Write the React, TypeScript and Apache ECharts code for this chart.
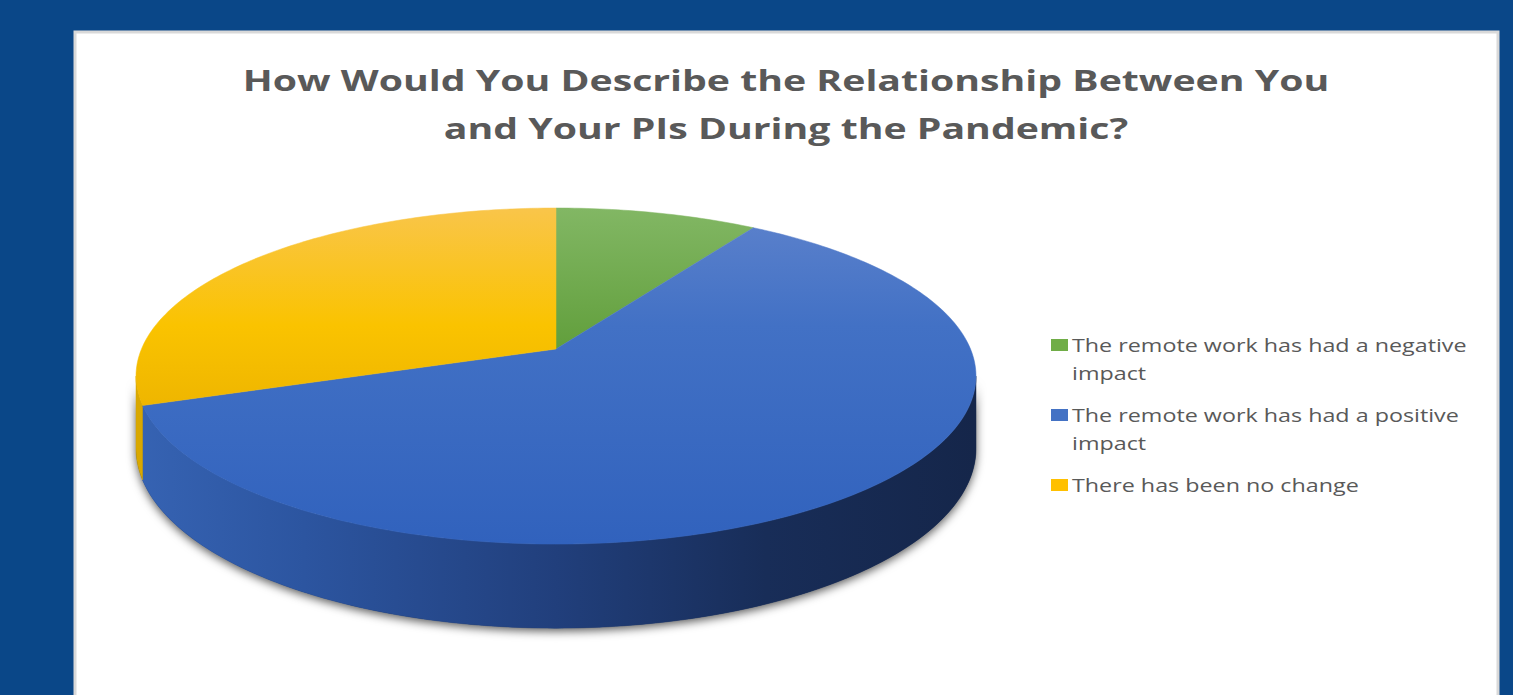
import React, { useEffect, useRef } from "react";
import * as echarts from "echarts";

// ---- data ----
const categories = [
  "The remote work has had a negative impact",
  "The remote work has had a positive impact",
  "There has been no change",
];
const responses = [3, 20, 10];
const titleLines = [
  "How Would You Describe the Relationship Between You",
  "and Your PIs During the Pandemic?",
];

// ---- styles ----
const swatch = ["#70ad47", "#4472c4", "#ffc000"];
const topStops = [
  [[0, "#82b764"], [0.45, "#5f9d39"], [1, "#5a9634"]],
  [[0, "#5d82cc"], [0.35, "#4271c5"], [1, "#3162bd"]],
  [[0, "#f9c54a"], [0.35, "#fac300"], [0.6, "#eeb500"], [1, "#e4ad00"]],
];
const sideStops = [
  [[0, "#4d8a2e"], [1, "#2f5a1a"]],
  [[0, "#3663b3"], [0.2, "#2c55a0"], [0.5, "#213f7c"], [0.75, "#182d58"], [1, "#15264a"]],
  [[0, "#d9a800"], [1, "#b48a00"]],
];

// ---- 3D pie geometry (perspective ellipse) ----
const CX = 556, CY = 349, A = 414.5, B = 163.7, E = 0.161, T0 = 70.5;
const VIS0 = (Math.acos(-E) * 180) / Math.PI;
const VIS1 = 360 - VIS0;
const rim = (deg: number) => {
  const t = (deg * Math.PI) / 180;
  const k = 1 + E * Math.cos(t);
  return [CX + (A * Math.sin(t)) / k, CY - (B * Math.cos(t)) / k];
};
const rimBottom = (deg: number) => {
  const t = (deg * Math.PI) / 180;
  const p = rim(deg);
  return [p[0], p[1] + T0 / (1 + E * Math.cos(t))];
};
const arc = (a0: number, a1: number, f: (d: number) => number[]) => {
  const n = Math.max(2, Math.ceil(Math.abs(a1 - a0)));
  const pts: number[][] = [];
  for (let i = 0; i <= n; i++) pts.push(f(a0 + ((a1 - a0) * i) / n));
  return pts;
};
const grad = (stops: any[], x: number, y: number, x2: number, y2: number) => ({
  type: "linear", x, y, x2, y2, global: true,
  colorStops: stops.map((s) => ({ offset: s[0], color: s[1] })),
});

const total = responses.reduce((a, b) => a + b, 0);
const starts: number[] = [];
const ends: number[] = [];
responses.reduce((acc, v, i) => {
  starts[i] = acc;
  ends[i] = acc + (v / total) * 360;
  return ends[i];
}, 0);

const TITLE_FONT = 'bold 28px "Open Sans"';
const LEGEND_FONT = '18px "Open Sans"';
const TITLE_WIDTH = 1087;
const LEGEND_SCALE = 1.295;

function measure(text: string, font: string) {
  const ctx = document.createElement("canvas").getContext("2d")!;
  ctx.font = font;
  return ctx.measureText(text).width;
}
function wrap(text: string, width: number): string[] {
  const words = text.split(" ");
  const lines: string[] = [];
  let cur = "";
  for (const w of words) {
    const t = cur ? cur + " " + w : w;
    if (measure(t, LEGEND_FONT) > width && cur) {
      lines.push(cur);
      cur = w;
    } else cur = t;
  }
  if (cur) lines.push(cur);
  return lines;
}

export default function App() {
  const ref = useRef<HTMLDivElement>(null);
  useEffect(() => {
    const chart = echarts.init(ref.current!, null, { renderer: "svg" });
    const titleScale = TITLE_WIDTH / measure(titleLines[0], TITLE_FONT);

    const legendEls: any[] = [];
    let y = 331;
    const LH = 28;
    categories.forEach((c, i) => {
      const lines = wrap(c, 420 / LEGEND_SCALE);
      legendEls.push({
        type: "rect",
        shape: { x: 1051, y: y + 8, width: 17, height: 12 },
        style: { fill: swatch[i] },
      });
      legendEls.push({
        type: "text",
        x: 1072,
        y,
        scaleX: LEGEND_SCALE,
        style: {
          text: lines.join("\n"),
          font: LEGEND_FONT,
          fill: "#595959",
          lineHeight: LH,
          textVerticalAlign: "top",
        },
      });
      y += lines.length * LH + 14;
    });

    chart.setOption({
      animation: false,
      backgroundColor: "#0a4788",
      graphic: [
        {
          type: "rect",
          z: -10,
          shape: { x: 75, y: 32, width: 1423, height: 700 },
          style: { fill: "#ffffff", stroke: "#d9d9d9", lineWidth: 3 },
        },
        {
          type: "text",
          x: 786,
          y: 104,
          scaleX: titleScale,
          style: {
            text: titleLines.join("\n"),
            font: TITLE_FONT,
            fill: "#595959",
            textAlign: "center",
            textVerticalAlign: "middle",
            lineHeight: 48,
          },
        },
        ...legendEls,
      ],
      series: [
        {
          type: "custom",
          coordinateSystem: "none",
          silent: true,
          data: responses.map((v, i) => ({ name: categories[i], value: v })),
          renderItem: (params: any) => {
            const i = params.dataIndex;
            const a0 = starts[i], a1 = ends[i];
            const children: any[] = [];
            if (i === 0) {
              children.push({
                type: "polygon",
                z2: 0,
                shape: { points: [...arc(VIS0, VIS1, rim), ...arc(VIS1, VIS0, rimBottom)] },
                style: {
                  fill: "#1b2b4b",
                  shadowBlur: 10,
                  shadowColor: "rgba(0,0,0,0.65)",
                  shadowOffsetY: 3,
                },
              });
            }
            const lo = Math.max(a0, VIS0), hi = Math.min(a1, VIS1);
            if (hi > lo) {
              const sf = grad(sideStops[i], 136, 0, 976, 0);
              children.push({
                type: "polygon",
                z2: 1,
                shape: { points: [...arc(lo, hi, rim), ...arc(hi, lo, rimBottom)] },
                style: { fill: sf, stroke: sf, lineWidth: 0.5 },
              });
            }
            const tf = grad(topStops[i], 0, 208, 0, 544);
            children.push({
              type: "polygon",
              z2: 2,
              shape: { points: [[CX, CY], ...arc(a0, a1, rim)] },
              style: { fill: tf, stroke: tf, lineWidth: 0.5 },
            });
            return { type: "group", children };
          },
        },
      ],
    });
    return () => chart.dispose();
  }, []);
  return (
    <div
      ref={ref}
      style={{ position: "fixed", left: 0, top: 0, width: 1513, height: 695 }}
    />
  );
}
